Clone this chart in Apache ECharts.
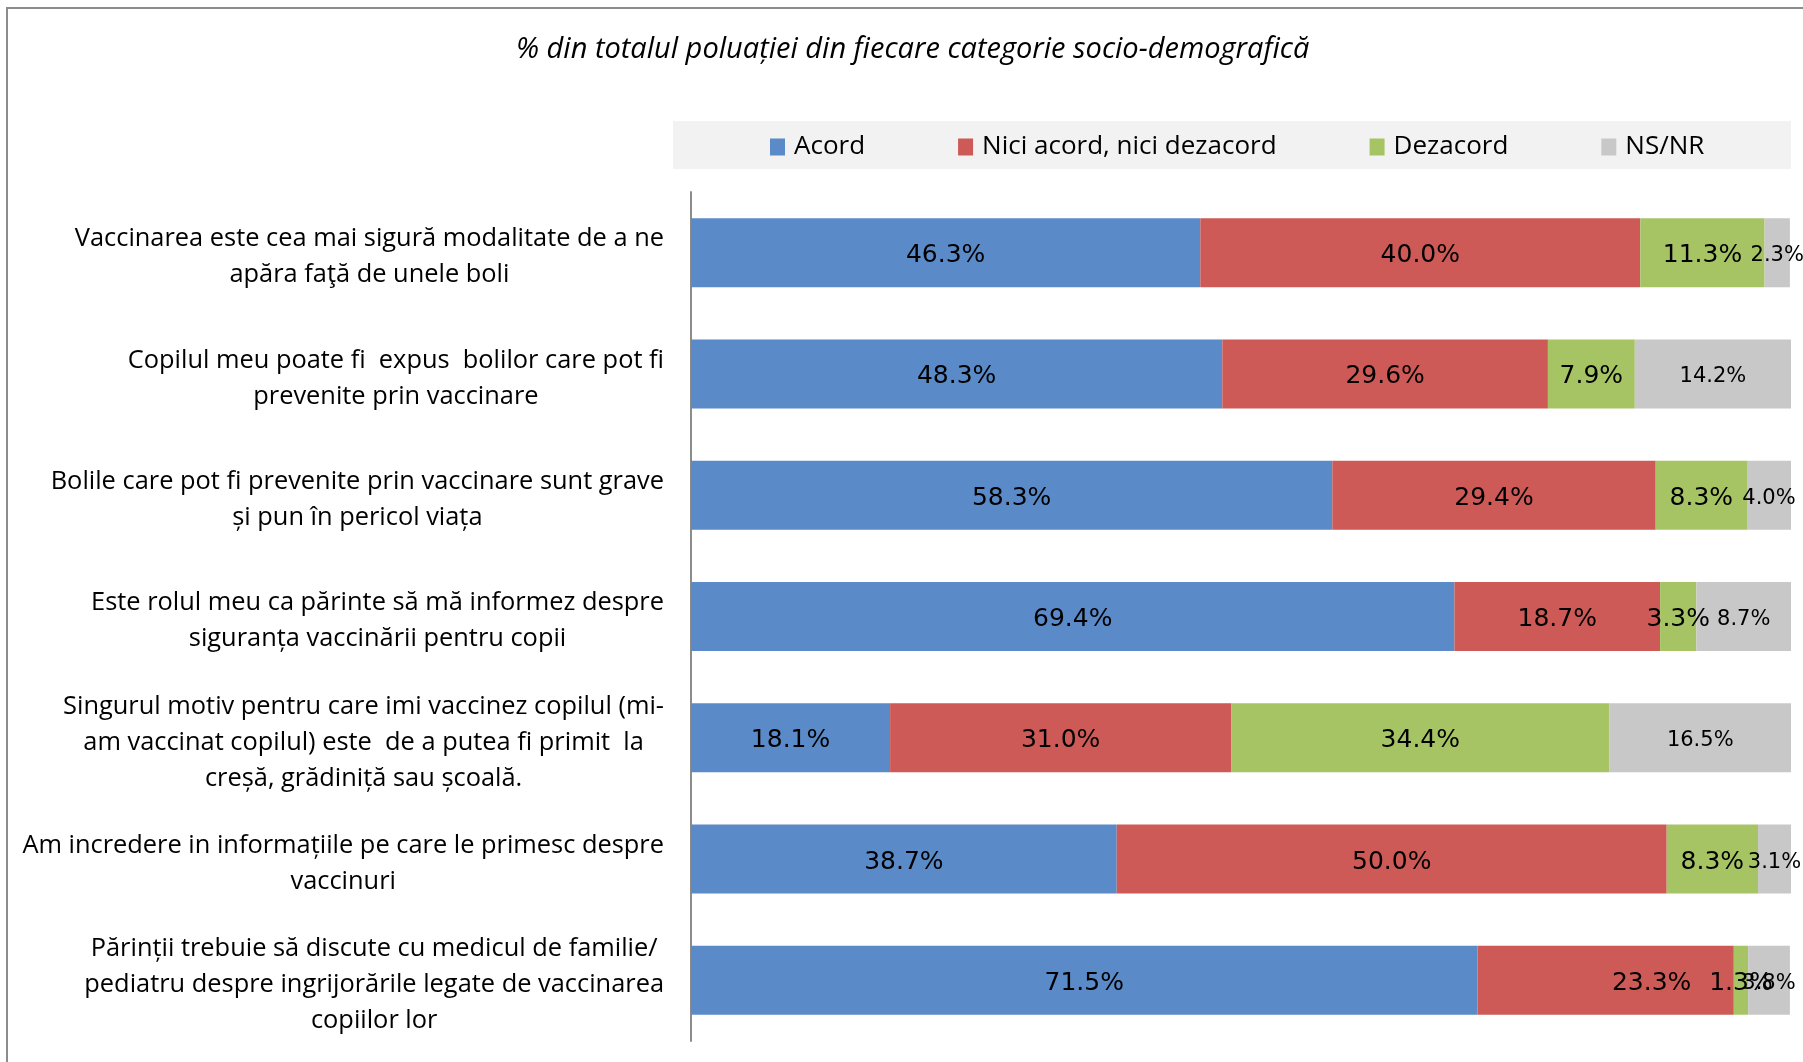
<!DOCTYPE html>
<html>
<head>
<meta charset="utf-8">
<script src="https://cdn.jsdelivr.net/npm/echarts@6/dist/echarts.min.js"></script>
<style>
  html, body { margin: 0; padding: 0; background: #fff; }
  #chart { width: 1803px; height: 1062px; }
</style>
</head>
<body>
<div id="chart"></div>
<script>
// categorii (fiecare rand = linie din eticheta)
var categories = [
  ['Vaccinarea este cea mai sigură modalitate de a ne', 'apăra faţă de unele boli'],
  ['Copilul meu poate fi  expus  bolilor care pot fi', 'prevenite prin vaccinare'],
  ['Bolile care pot fi prevenite prin vaccinare sunt grave', 'și pun în pericol viața'],
  ['Este rolul meu ca părinte să mă informez despre', 'siguranța vaccinării pentru copii'],
  ['Singurul motiv pentru care imi vaccinez copilul (mi-', 'am vaccinat copilul) este  de a putea fi primit  la', 'creșă, grădiniță sau școală.'],
  ['Am incredere in informațiile pe care le primesc despre', 'vaccinuri'],
  ['Părinții trebuie să discute cu medicul de familie/', 'pediatru despre ingrijorările legate de vaccinarea', 'copiilor lor']
];
var acord    = [46.3, 48.3, 58.3, 69.4, 18.1, 38.7, 71.5];
var neutru   = [40.0, 29.6, 29.4, 18.7, 31.0, 50.0, 23.3];
var dezacord = [11.3, 7.9, 8.3, 3.3, 34.4, 8.3, 1.3];
var nsnr     = [2.3, 14.2, 4.0, 8.7, 16.5, 3.1, 3.8];

var seriesNames = ['Acord', 'Nici acord, nici dezacord', 'Dezacord', 'NS/NR'];
var colors = ['#5a8ac8', '#cd5a56', '#a6c464', '#c8c8c8'];

var chart = echarts.init(document.getElementById('chart'));

function makeSeries(name, values, color, fontSize) {
  return {
    name: name,
    type: 'bar',
    stack: 'total',
    barWidth: 69,
    itemStyle: { color: color },
    label: {
      show: true,
      position: 'inside',
      offset: [0, 3],
      color: '#000',
      fontFamily: 'DejaVu Sans',
      fontSize: fontSize,
      formatter: function (p) { return p.value.toFixed(1) + '%'; }
    },
    data: values.slice()
  };
}

var series = [
  makeSeries(seriesNames[0], acord, colors[0], 25),
  makeSeries(seriesNames[1], neutru, colors[1], 25),
  makeSeries(seriesNames[2], dezacord, colors[2], 25),
  makeSeries(seriesNames[3], nsnr, colors[3], 21)
];
// in original eticheta 23.3% e deplasata spre dreapta
series[1].data[6] = { value: neutru[6], label: { offset: [46, 3] } };

var option = {
  backgroundColor: '#fff',
  animation: false,
  title: {
    text: '% din totalul poluației din fiecare categorie socio-demografică',
    left: 516,
    top: 35,
    padding: 0,
    textStyle: {
      fontFamily: 'Open Sans',
      fontStyle: 'italic',
      fontWeight: 'normal',
      fontSize: 29,
      color: '#000'
    }
  },
  graphic: [
    {
      type: 'rect',
      z: -10,
      shape: { x: 7, y: 8, width: 1900, height: 1100 },
      style: { fill: 'none', stroke: '#8c8c8c', lineWidth: 2 }
    },
    {
      type: 'rect',
      z: -5,
      shape: { x: 673, y: 121, width: 1118, height: 48 },
      style: { fill: '#f2f2f2' }
    }
  ],
  legend: {
    left: 770,
    top: 133,
    padding: 0,
    itemGap: 93,
    icon: 'rect',
    itemWidth: 15,
    itemHeight: 17,
    textStyle: { fontFamily: 'Open Sans', fontSize: 26, lineHeight: 28, color: '#000', padding: [0, 0, 0, 4] },
    data: seriesNames
  },
  grid: {
    left: 691,
    right: 12,
    top: 192,
    bottom: 21,
    containLabel: false
  },
  xAxis: {
    type: 'value',
    min: 0,
    max: 100,
    show: false,
    splitLine: { show: false }
  },
  yAxis: {
    type: 'category',
    inverse: true,
    data: categories.map(function (c, i) { return String(i); }),
    axisTick: { show: false },
    axisLine: { show: true, lineStyle: { color: '#8c8c8c', width: 2 } },
    axisLabel: {
      margin: 27,
      align: 'right',
      padding: [9, 0, 0, 0],
      formatter: function (v) {
        return categories[+v].map(function (l) { return '{c|' + l + '}'; }).join('\n');
      },
      rich: {
        c: { align: 'center', fontFamily: 'Open Sans', fontSize: 25.4, lineHeight: 36, color: '#000' }
      }
    }
  },
  series: series
};

chart.setOption(option);
</script>
</body>
</html>
